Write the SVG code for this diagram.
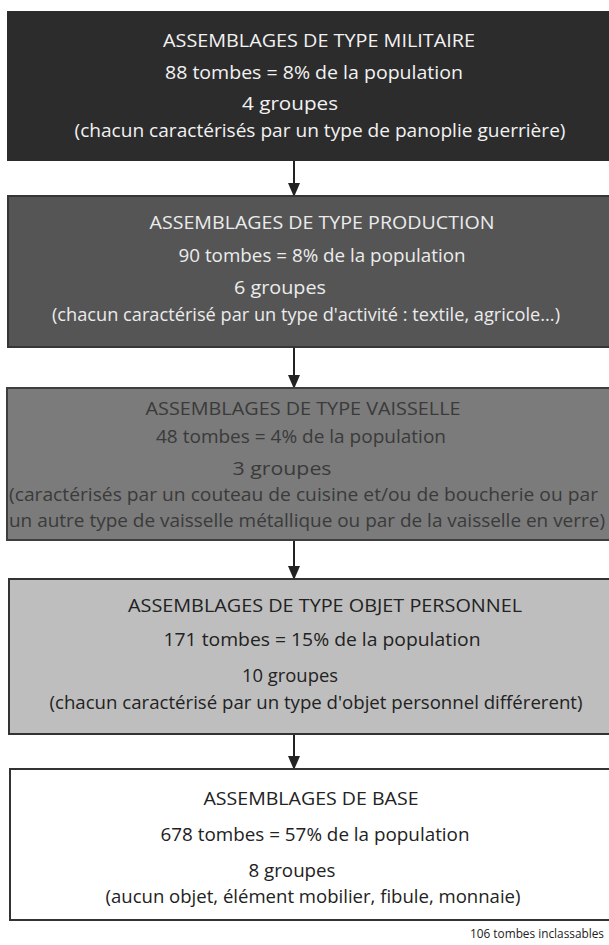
<svg xmlns="http://www.w3.org/2000/svg" width="609" height="945" viewBox="0 0 609 945">
<style>
  text { font-family: "Open Sans", "Noto Sans", "Liberation Sans", sans-serif; font-size: 18.5px; }
  .c { text-anchor: middle; }
  .l { text-anchor: start; }
  .w { fill: #f2f2f2; }
  .g { fill: #ececec; }
  .d3 { fill: #3a3a3a; }
  .d { fill: #222222; }
  .small { font-size: 12px; fill: #222222; }
</style>
<defs>
  <marker id="ah" markerWidth="14" markerHeight="12" refX="13" refY="6" orient="auto" markerUnits="userSpaceOnUse">
    <path d="M0,0 L14,6 L0,12 Z" fill="#222"/>
  </marker>
</defs>
<rect width="609" height="945" fill="#ffffff"/>

<g id="connectors" stroke="#222" stroke-width="2" fill="none">
  <line x1="294" y1="161" x2="294" y2="196" marker-end="url(#ah)"/>
  <line x1="294" y1="347" x2="294" y2="388" marker-end="url(#ah)"/>
  <line x1="294" y1="540" x2="294" y2="579" marker-end="url(#ah)"/>
  <line x1="294" y1="734" x2="294" y2="769" marker-end="url(#ah)"/>
</g>

<g id="militaire">
  <rect x="7" y="11" width="640" height="150" fill="#2c2c2c"/>
  <text class="c w" x="319" y="47" textLength="312" lengthAdjust="spacingAndGlyphs">ASSEMBLAGES DE TYPE MILITAIRE</text>
  <text class="c w" x="314" y="79" textLength="298" lengthAdjust="spacingAndGlyphs">88 tombes = 8% de la population</text>
  <text class="c w" x="290" y="110" textLength="96" lengthAdjust="spacingAndGlyphs">4 groupes</text>
  <text class="c w" x="320" y="137" textLength="491" lengthAdjust="spacingAndGlyphs">(chacun caractérisés par un type de panoplie guerrière)</text>
</g>

<g id="production">
  <rect x="8" y="196" width="640" height="151" fill="#555555" stroke="#363636" stroke-width="2"/>
  <text class="c g" x="322" y="229" textLength="345" lengthAdjust="spacingAndGlyphs">ASSEMBLAGES DE TYPE PRODUCTION</text>
  <text class="c g" x="322" y="262" textLength="287" lengthAdjust="spacingAndGlyphs">90 tombes = 8% de la population</text>
  <text class="c g" x="280" y="294" textLength="92" lengthAdjust="spacingAndGlyphs">6 groupes</text>
  <text class="c g" x="306" y="321" textLength="508" lengthAdjust="spacingAndGlyphs">(chacun caractérisé par un type d'activité : textile, agricole...)</text>
</g>

<g id="vaisselle">
  <rect x="7" y="388" width="640" height="152" fill="#7b7b7b" stroke="#3e3e3e" stroke-width="2"/>
  <text class="c d3" x="303" y="415" textLength="315" lengthAdjust="spacingAndGlyphs">ASSEMBLAGES DE TYPE VAISSELLE</text>
  <text class="c d3" x="301" y="443" textLength="290" lengthAdjust="spacingAndGlyphs">48 tombes = 4% de la population</text>
  <text class="c d3" x="282" y="475" textLength="99" lengthAdjust="spacingAndGlyphs">3 groupes</text>
  <text class="l d3" x="9" y="501" textLength="589" lengthAdjust="spacingAndGlyphs">(caractérisés par un couteau de cuisine et/ou de boucherie ou par</text>
  <text class="l d3" x="9" y="527" textLength="596" lengthAdjust="spacingAndGlyphs">un autre type de vaisselle métallique ou par de la vaisselle en verre)</text>
</g>

<g id="objet-personnel">
  <rect x="9" y="579" width="640" height="155" fill="#bebebe" stroke="#333333" stroke-width="2"/>
  <text class="c d" x="325" y="612" textLength="394" lengthAdjust="spacingAndGlyphs">ASSEMBLAGES DE TYPE OBJET PERSONNEL</text>
  <text class="c d" x="322" y="646" textLength="317" lengthAdjust="spacingAndGlyphs">171 tombes = 15% de la population</text>
  <text class="c d" x="290" y="682" textLength="96" lengthAdjust="spacingAndGlyphs">10 groupes</text>
  <text class="c d" x="316" y="709" textLength="533" lengthAdjust="spacingAndGlyphs">(chacun caractérisé par un type d'objet personnel différerent)</text>
</g>

<g id="base">
  <rect x="10" y="769" width="640" height="151" fill="#ffffff" stroke="#333333" stroke-width="2"/>
  <text class="c d" x="311" y="805" textLength="215" lengthAdjust="spacingAndGlyphs">ASSEMBLAGES DE BASE</text>
  <text class="c d" x="315" y="841" textLength="309" lengthAdjust="spacingAndGlyphs">678 tombes = 57% de la population</text>
  <text class="c d" x="292" y="877" textLength="87" lengthAdjust="spacingAndGlyphs">8 groupes</text>
  <text class="c d" x="313" y="903" textLength="415" lengthAdjust="spacingAndGlyphs">(aucun objet, élément mobilier, fibule, monnaie)</text>
</g>

<text class="small" x="470" y="938" textLength="134" lengthAdjust="spacingAndGlyphs">106 tombes inclassables</text>
</svg>
